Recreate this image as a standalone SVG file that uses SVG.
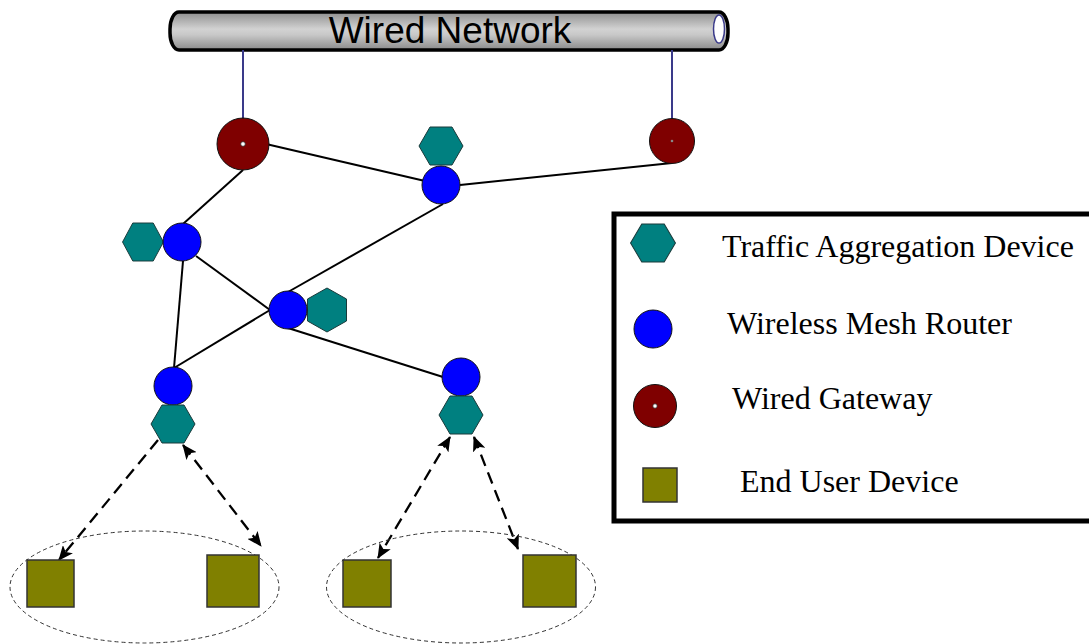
<svg xmlns="http://www.w3.org/2000/svg" xmlns:xlink="http://www.w3.org/1999/xlink" width="1089" height="644" viewBox="0 0 1089 644">
  <style>
    .link { stroke: #000; stroke-width: 2; fill: none; }
    .uplink { stroke: #3a3a8a; stroke-width: 2; fill: none; }
    .radio { stroke: #000; stroke-width: 2.3; fill: none; stroke-dasharray: 12 7; }
    .cluster { stroke: #333; stroke-width: 1; fill: none; stroke-dasharray: 4 3; }
    .agg { fill: #008080; stroke: #1a3a3a; stroke-width: 1; }
    .router { fill: #0000ff; stroke: #111; stroke-width: 1; }
    .gateway { fill: #7f0000; stroke: #111; stroke-width: 1; }
    .hole { fill: #fff; stroke: #333; stroke-width: 0.8; }
    .user { fill: #808000; stroke: #333; stroke-width: 1.5; }
    .legend-text { font-family: "Liberation Serif", "Times New Roman", serif; font-size: 32px; fill: #000; }
  </style>
  <defs>
    <linearGradient id="pipeShade" x1="0" y1="0" x2="0" y2="1">
      <stop offset="0" stop-color="#8e8e8e"/>
      <stop offset="0.45" stop-color="#d2d2d2"/>
      <stop offset="0.6" stop-color="#c8c8c8"/>
      <stop offset="1" stop-color="#8a8a8a"/>
    </linearGradient>
    <polygon id="hexFlat" points="-22,0 -11,-19 11,-19 22,0 11,19 -11,19"/>
    <polygon id="hexTall" points="0,-22 19.5,-11 19.5,11 0,22 -19.5,11 -19.5,-11"/>
    <marker id="tip" viewBox="0 0 15 13" refX="14" refY="6.5" markerWidth="15" markerHeight="13" markerUnits="userSpaceOnUse" orient="auto-start-reverse">
      <path d="M0,0 L15,6.5 L0,13 L3.5,6.5 Z" fill="#000"/>
    </marker>
  </defs>

  <!-- backbone pipe -->
  <g id="wired-network">
    <rect x="170" y="12" width="558" height="38" rx="9" ry="17" fill="url(#pipeShade)" stroke="#000" stroke-width="3.5"/>
    <ellipse cx="719" cy="29" rx="5.5" ry="14" fill="#fff" stroke="#3a3a8a" stroke-width="1.5"/>
    <text x="450" y="43" text-anchor="middle" font-family="Liberation Sans, Arial, sans-serif" font-size="37" fill="#000">Wired Network</text>
  </g>

  <!-- connectors -->
  <g id="connectors">
    <line class="uplink" x1="243" y1="50" x2="243" y2="120"/>
    <line class="uplink" x1="672" y1="50" x2="672" y2="120"/>

    <line class="link" x1="266" y1="144" x2="425" y2="181"/>
    <line class="link" x1="243" y1="170" x2="183" y2="224"/>
    <line class="link" x1="672" y1="163" x2="460" y2="185"/>
    <line class="link" x1="443" y1="204" x2="288" y2="292"/>
    <line class="link" x1="196" y1="256" x2="270" y2="310"/>
    <line class="link" x1="183" y1="261" x2="174" y2="368"/>
    <line class="link" x1="270" y1="310" x2="174" y2="368"/>
    <line class="link" x1="288" y1="328" x2="443" y2="377"/>

    <line class="radio" x1="158" y1="440" x2="59" y2="560" marker-end="url(#tip)"/>
    <line class="radio" x1="183" y1="445" x2="261" y2="546" marker-start="url(#tip)" marker-end="url(#tip)"/>
    <line class="radio" x1="450" y1="437" x2="378" y2="558" marker-start="url(#tip)" marker-end="url(#tip)"/>
    <line class="radio" x1="474" y1="437" x2="518" y2="549" marker-start="url(#tip)" marker-end="url(#tip)"/>
  </g>

  <!-- gateways -->
  <g id="gateway-1">
    <circle class="gateway" cx="243" cy="144" r="26"/>
    <circle class="hole" cx="243" cy="144" r="2.3"/>
  </g>
  <g id="gateway-2">
    <circle class="gateway" cx="672" cy="141" r="22.5"/>
    <circle cx="672" cy="141" r="1.3" fill="#888"/>
  </g>

  <!-- mesh routers with aggregation devices -->
  <g id="router-top">
    <use href="#hexFlat" class="agg" x="441" y="146"/>
    <circle class="router" cx="441" cy="185" r="19"/>
  </g>
  <g id="router-left">
    <use href="#hexFlat" class="agg" x="143" y="242" transform="translate(143 242) scale(0.93 1) translate(-143 -242)"/>
    <circle class="router" cx="182" cy="242" r="19"/>
  </g>
  <g id="router-middle">
    <use href="#hexTall" class="agg" x="327" y="310"/>
    <circle class="router" cx="288" cy="310" r="19"/>
  </g>
  <g id="router-bottom-left">
    <circle class="router" cx="173" cy="386" r="19"/>
    <use href="#hexFlat" class="agg" x="173" y="424"/>
  </g>
  <g id="router-bottom-right">
    <circle class="router" cx="461" cy="377" r="19"/>
    <use href="#hexFlat" class="agg" x="461" y="415"/>
  </g>

  <!-- end user clusters -->
  <g id="cluster-left">
    <ellipse class="cluster" cx="144.5" cy="587" rx="134.5" ry="56"/>
    <rect class="user" x="27" y="560" width="47" height="47"/>
    <rect class="user" x="207" y="555" width="52" height="52"/>
  </g>
  <g id="cluster-right">
    <ellipse class="cluster" cx="461" cy="587" rx="134.5" ry="56"/>
    <rect class="user" x="343" y="560" width="48" height="47"/>
    <rect class="user" x="523" y="555" width="53" height="52"/>
  </g>

  <!-- legend -->
  <g id="legend">
    <rect x="614" y="214" width="490" height="307" fill="#fff" stroke="#000" stroke-width="5"/>
    <use href="#hexFlat" class="agg" x="653" y="243" transform="translate(653 243) scale(1.02 1) translate(-653 -243)"/>
    <text class="legend-text" x="722" y="257">Traffic Aggregation Device</text>
    <circle class="router" cx="653" cy="329" r="19"/>
    <text class="legend-text" x="727" y="334">Wireless Mesh Router</text>
    <circle class="gateway" cx="655" cy="406" r="21.5"/>
    <circle class="hole" cx="655" cy="406" r="2.2"/>
    <text class="legend-text" x="732" y="409">Wired Gateway</text>
    <rect class="user" x="643" y="468" width="34" height="34"/>
    <text class="legend-text" x="740" y="492">End User Device</text>
  </g>
</svg>
